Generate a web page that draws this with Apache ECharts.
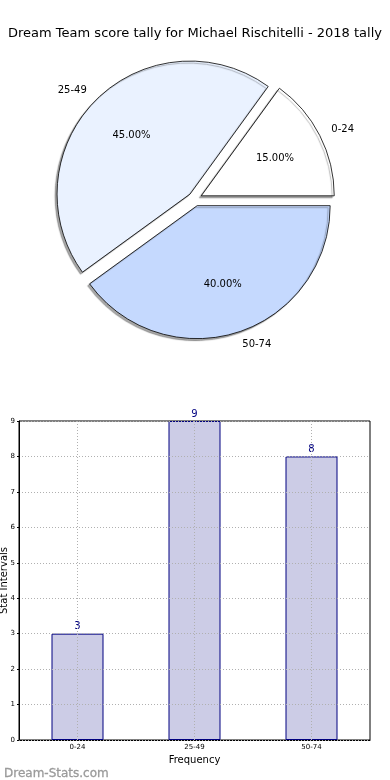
<!DOCTYPE html>
<html>
<head>
<meta charset="utf-8">
<script src="https://cdn.jsdelivr.net/npm/echarts@6/dist/echarts.min.js"></script>
<style>
html,body{margin:0;padding:0;background:#fff;}
#c{width:390px;height:780px;}
</style>
</head>
<body>
<div id="c"></div>
<script>
var titleText = 'Dream Team score tally for Michael Rischitelli - 2018 tally';
var categories = ['0-24', '25-49', '50-74'];
var counts = [3, 9, 8];
var pieColors = ['#ffffff', '#eaf2ff', '#c5d9fe'];
var yTicks = [0, 1, 2, 3, 4, 5, 6, 7, 8, 9];

var FONT = 'DejaVu Sans';
var R = 133;
var total = counts.reduce(function (a, b) { return a + b; }, 0);

var pieData = categories.map(function (c, i) {
  return { name: c, value: counts[i], selected: true, itemStyle: { color: pieColors[i] } };
});
var pctData = categories.map(function (c, i) {
  return { name: c, value: counts[i], selected: true };
});

var chart = echarts.init(document.getElementById('c'), null, { renderer: 'canvas' });
chart.setOption({
  animation: false,
  backgroundColor: '#ffffff',
  title: [
    { text: titleText, left: 'center', top: 22,
      textStyle: { fontFamily: FONT, fontSize: 13, fontWeight: 'normal', color: '#000' } },
    { text: 'Dream-Stats.com', left: -1, top: 763,
      textStyle: { fontFamily: FONT, fontSize: 12, fontWeight: 'normal', color: '#9a9a9a',
        textBorderColor: '#9a9a9a', textBorderWidth: 0.3 } }
  ],
  grid: { left: 19, right: 20, top: 421, bottom: 40, show: true, borderColor: '#000', borderWidth: 1,
    containLabel: false, outerBoundsMode: 'none' },
  xAxis: {
    type: 'category', data: categories, boundaryGap: true,
    name: 'Frequency', nameLocation: 'middle', nameGap: 15, nameMoveOverlap: false,
    nameTextStyle: { fontFamily: FONT, fontSize: 10, color: '#000' },
    axisLine: { lineStyle: { color: '#000', width: 1 } },
    axisTick: { show: false },
    axisLabel: { fontFamily: FONT, fontSize: 7, color: '#000', margin: 4 },
    splitLine: { show: false }
  },
  yAxis: {
    type: 'value', min: 0, max: 9, interval: 1, z: 5,
    name: 'Stat Intervals', nameLocation: 'middle', nameGap: 10, nameMoveOverlap: false,
    nameTextStyle: { fontFamily: FONT, fontSize: 10, color: '#000' },
    axisLine: { show: true, lineStyle: { color: '#000', width: 1 } },
    axisTick: { show: true, inside: false, length: 2, lineStyle: { color: '#000' } },
    axisLabel: { fontFamily: FONT, fontSize: 7, color: '#000', margin: 4,
      formatter: function (v) { return yTicks.indexOf(v) >= 0 ? String(v) : ''; } },
    splitLine: { show: true, lineStyle: { color: '#b0b0b0', type: [1, 2], width: 1 } }
  },
  series: [
    {
      type: 'pie',
      center: [195, 199],
      radius: [0, R],
      startAngle: 0,
      clockwise: false,
      selectedMode: 'multiple',
      selectedOffset: 7,
      avoidLabelOverlap: false,
      emphasis: { disabled: true },
      itemStyle: { borderColor: '#000', borderWidth: 0.8,
        shadowColor: 'rgba(0,0,0,0.35)', shadowBlur: 1, shadowOffsetX: -2, shadowOffsetY: 2 },
      label: { show: true, position: 'outside', fontFamily: FONT, fontSize: 10, color: '#000',
        distanceToLabelLine: 0, formatter: '{b}' },
      labelLine: { show: false, length: Math.round(0.1 * R), length2: 0 },
      data: pieData
    },
    {
      type: 'pie',
      center: [195, 199],
      radius: [0.5 * R, 0.7 * R],
      startAngle: 0,
      clockwise: false,
      selectedMode: 'multiple',
      selectedOffset: 7,
      silent: true,
      avoidLabelOverlap: false,
      emphasis: { disabled: true },
      itemStyle: { color: 'rgba(0,0,0,0)', borderWidth: 0 },
      label: { show: true, position: 'inside', fontFamily: FONT, fontSize: 10, color: '#000',
        formatter: function (p) { return (p.value / total * 100).toFixed(2) + '%'; } },
      labelLine: { show: false },
      data: pctData
    },
    {
      type: 'bar',
      data: counts,
      barWidth: 52,
      itemStyle: { color: '#ccccE6', borderColor: '#000080', borderWidth: 1 },
      label: { show: true, position: 'top', distance: 2, fontFamily: FONT, fontSize: 10, color: '#000080' },
      markLine: {
        silent: true, symbol: 'none', z: 6,
        label: { show: false },
        lineStyle: { color: '#b0b0b0', type: [1, 2], width: 1 },
        emphasis: { disabled: true },
        data: categories.map(function (c) { return { xAxis: c }; })
      }
    }
  ]
});
</script>
</body>
</html>
